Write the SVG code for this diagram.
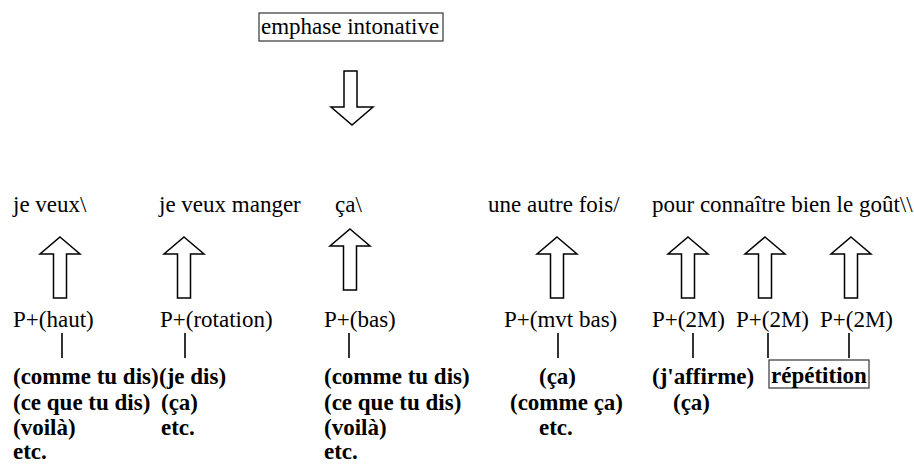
<svg xmlns="http://www.w3.org/2000/svg" xmlns:xlink="http://www.w3.org/1999/xlink" width="914" height="464" viewBox="0 0 914 464">
  <style>
    text { font-family: 'Liberation Serif', 'DejaVu Serif', serif; font-size: 23px; fill: #000; }
    .b { font-weight: bold; }
    .box { fill: none; stroke: #444; stroke-width: 1.3; }
    .arrow { fill: #fff; stroke: #000; stroke-width: 1.5; stroke-linejoin: miter; }
    .tick { stroke: #000; stroke-width: 1.6; }
  </style>
  <defs>
    <!-- hollow block arrow pointing up, tip at the origin -->
    <path id="up" class="arrow" d="M0,0 L20,17 L6.5,17 L6.5,61 L-6.5,61 L-6.5,17 L-20,17 Z"/>
  </defs>
  <rect width="914" height="464" fill="#fff"/>

  <g id="emphase">
    <rect class="box" x="259" y="13" width="184" height="28"/>
    <text x="261" y="34">emphase intonative</text>
  </g>

  <g id="phrase">
    <text x="13" y="212">je veux\</text>
    <text x="159" y="212">je veux manger</text>
    <text x="335" y="212">ça\</text>
    <text x="488" y="212">une autre fois/</text>
    <text x="652" y="212">pour connaître bien le goût\\</text>
  </g>

  <g id="col-haut">
    <text x="13" y="327">P+(haut)</text>
    <text class="b" x="13" y="384">(comme tu dis)</text>
    <text class="b" x="13" y="410">(ce que tu dis)</text>
    <text class="b" x="13" y="435">(voilà)</text>
    <text class="b" x="13" y="459">etc.</text>
  </g>

  <g id="col-rotation">
    <text x="160" y="327">P+(rotation)</text>
    <text class="b" x="159" y="384">(je dis)</text>
    <text class="b" x="161" y="410">(ça)</text>
    <text class="b" x="161" y="435">etc.</text>
  </g>

  <g id="col-bas">
    <text x="324" y="327">P+(bas)</text>
    <text class="b" x="324" y="384">(comme tu dis)</text>
    <text class="b" x="324" y="410">(ce que tu dis)</text>
    <text class="b" x="324" y="435">(voilà)</text>
    <text class="b" x="324" y="459">etc.</text>
  </g>

  <g id="col-mvt-bas">
    <text x="504" y="327">P+(mvt bas)</text>
    <text class="b" x="539" y="384">(ça)</text>
    <text class="b" x="510" y="410">(comme ça)</text>
    <text class="b" x="539" y="435">etc.</text>
  </g>

  <g id="col-2m-1">
    <text x="652" y="327">P+(2M)</text>
    <text class="b" x="652" y="384">(j'affirme)</text>
    <text class="b" x="673" y="410">(ça)</text>
  </g>

  <g id="col-2m-2">
    <text x="736" y="327">P+(2M)</text>
  </g>

  <g id="col-2m-3">
    <text x="820" y="327">P+(2M)</text>
  </g>

  <g id="repetition">
    <rect class="box" x="769" y="360" width="100" height="28"/>
    <text class="b" x="771" y="383">répétition</text>
  </g>

  <g id="connectors">
    <path class="arrow" d="M344,71 L357,71 L357,107 L373,107 L352,125 L331,107 L344,107 Z"/>
    <use xlink:href="#up" x="60" y="237"/>
    <use xlink:href="#up" x="184" y="237"/>
    <use xlink:href="#up" x="350" y="229"/>
    <use xlink:href="#up" x="557" y="237"/>
    <use xlink:href="#up" x="688" y="237"/>
    <use xlink:href="#up" x="765" y="237"/>
    <use xlink:href="#up" x="851" y="237"/>
    <line class="tick" x1="62" y1="333" x2="62" y2="358"/>
    <line class="tick" x1="185" y1="333" x2="185" y2="358"/>
    <line class="tick" x1="349" y1="333" x2="349" y2="358"/>
    <line class="tick" x1="558" y1="333" x2="558" y2="358"/>
    <line class="tick" x1="693" y1="333" x2="693" y2="358"/>
    <line class="tick" x1="768" y1="333" x2="768" y2="358"/>
    <line class="tick" x1="849" y1="333" x2="849" y2="358"/>
  </g>
</svg>
